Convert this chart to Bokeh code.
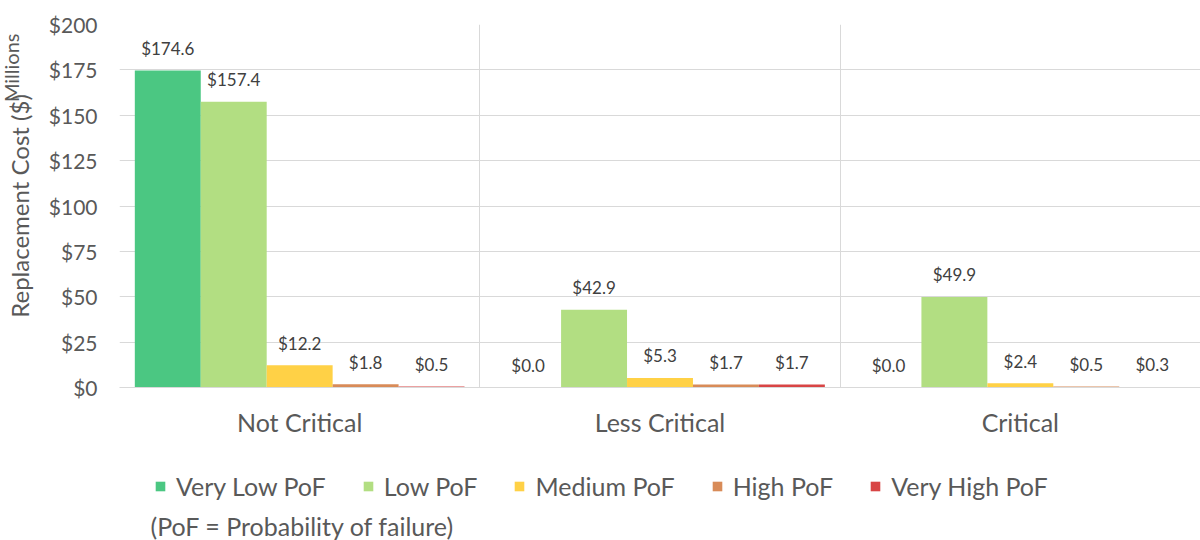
from bokeh.plotting import figure
from bokeh.models import ColumnDataSource, FixedTicker, NumeralTickFormatter, Legend, Title, Label, Range1d
from bokeh.layouts import column
from bokeh.embed import file_html
from bokeh.resources import INLINE
from bokeh.core.properties import value

categories = ["Not Critical", "Less Critical", "Critical"]
series_names = ["Very Low PoF", "Low PoF", "Medium PoF", "High PoF", "Very High PoF"]
very_low = [174.6, 0.04, 0.0]
low = [157.4, 42.9, 49.9]
medium = [12.2, 5.3, 2.4]
high = [1.8, 1.7, 0.5]
very_high = [0.5, 1.7, 0.3]
series_values = [very_low, low, medium, high, very_high]
colors = ["#4bc782", "#b2de82", "#ffd146", "#d88b58", "#d84545"]
y_ticks = [0, 25, 50, 75, 100, 125, 150, 175, 200]
note_text = "(PoF = Probability of failure)"

FONT = "Lato"
TEXT = "#595959"

# ---------------- main chart ----------------
p = figure(width=1200, height=450, x_range=(0, 3), y_range=(0, 200),
           output_backend="svg", toolbar_location=None,
           min_border_left=119, min_border_right=0, min_border_top=24, min_border_bottom=63)
p.outline_line_color = None
p.background_fill_color = "white"
p.border_fill_color = "white"

bw = 0.183
sources = []
for j, (name, vals, col) in enumerate(zip(series_names, series_values, colors)):
    xs = [i + 0.5 + (j - 2) * bw for i in range(len(categories))]
    src = ColumnDataSource(dict(x=xs, top=vals, lab=["$%.1f" % v for v in vals]))
    sources.append(src)
    p.vbar(x="x", top="top", width=bw, source=src, fill_color=col, line_color=None)
    p.text(x="x", y="top", text="lab", source=src, text_align="center", text_baseline="middle",
           y_offset=-22, text_font=value(FONT), text_font_size="17px", text_color="#404040")

# y axis
p.yaxis.ticker = FixedTicker(ticks=y_ticks)
p.yaxis.formatter = NumeralTickFormatter(format="$0,0")
p.yaxis.axis_line_color = None
p.yaxis.major_tick_line_color = None
p.yaxis.major_tick_out = 0
p.yaxis.minor_tick_line_color = None
p.yaxis.minor_tick_out = 0
p.yaxis.major_label_text_font = FONT
p.yaxis.major_label_text_font_size = "21px"
p.yaxis.major_label_text_color = TEXT
p.yaxis.major_label_standoff = 22
p.yaxis.axis_label = "Replacement Cost ($)"
p.yaxis.axis_label_text_font = FONT
p.yaxis.axis_label_text_font_style = "normal"
p.yaxis.axis_label_text_font_size = "24px"
p.yaxis.axis_label_text_color = TEXT
p.yaxis.axis_label_standoff = 12

# x axis
p.xaxis.ticker = FixedTicker(ticks=[i + 0.5 for i in range(len(categories))])
p.xaxis.major_label_overrides = {i + 0.5: c for i, c in enumerate(categories)}
p.xaxis.axis_line_color = "#d9d9d9"
p.xaxis.major_tick_line_color = None
p.xaxis.major_tick_out = 0
p.xaxis.minor_tick_line_color = None
p.xaxis.minor_tick_out = 0
p.xaxis.major_label_text_font = FONT
p.xaxis.major_label_text_font_size = "25px"
p.xaxis.major_label_text_color = TEXT
p.xaxis.major_label_standoff = 19

p.ygrid.ticker = FixedTicker(ticks=y_ticks)
p.ygrid.grid_line_color = "#d9d9d9"
p.xgrid.ticker = FixedTicker(ticks=list(range(len(categories) + 1)))
p.xgrid.grid_line_color = "#d9d9d9"

# display-unit label "Millions"
p.add_layout(Title(text="Millions", align="right", offset=9, standoff=-42,
                   vertical_align="bottom",
                   text_font=FONT, text_font_size="20px", text_font_style="normal",
                   text_color=TEXT), "left")

# ---------------- legend strip ----------------
q = figure(width=1200, height=90, x_range=Range1d(0, 1), y_range=Range1d(1000, 1001),
           output_backend="svg", toolbar_location=None,
           x_axis_location=None, y_axis_location=None,
           min_border_left=0, min_border_right=0, min_border_top=0, min_border_bottom=0)
q.outline_line_color = None
q.grid.visible = False
q.background_fill_color = "white"
q.border_fill_color = "white"

items = []
for name, col, src in zip(series_names, colors, sources):
    r = q.vbar(x="x", top="top", width=bw, source=src, fill_color=col, line_color=None,
               visible=False)
    items.append((name, [r]))

legend = Legend(items=items, orientation="horizontal", location=(35, 39),
                padding=0, margin=0, spacing=36,
                glyph_width=12, glyph_height=12, label_standoff=10,
                label_text_font=FONT, label_text_font_size="25px", label_text_color=TEXT,
                border_line_color=None, background_fill_alpha=0)
q.add_layout(legend)

q.add_layout(Label(x=31, y=15, x_units="screen", y_units="screen", text=note_text,
                   text_align="left", text_baseline="middle",
                   text_font=FONT, text_font_size="25px", text_color=TEXT))

layout = column(p, q, spacing=0)
open("out.html", "w").write(file_html(layout, INLINE))
